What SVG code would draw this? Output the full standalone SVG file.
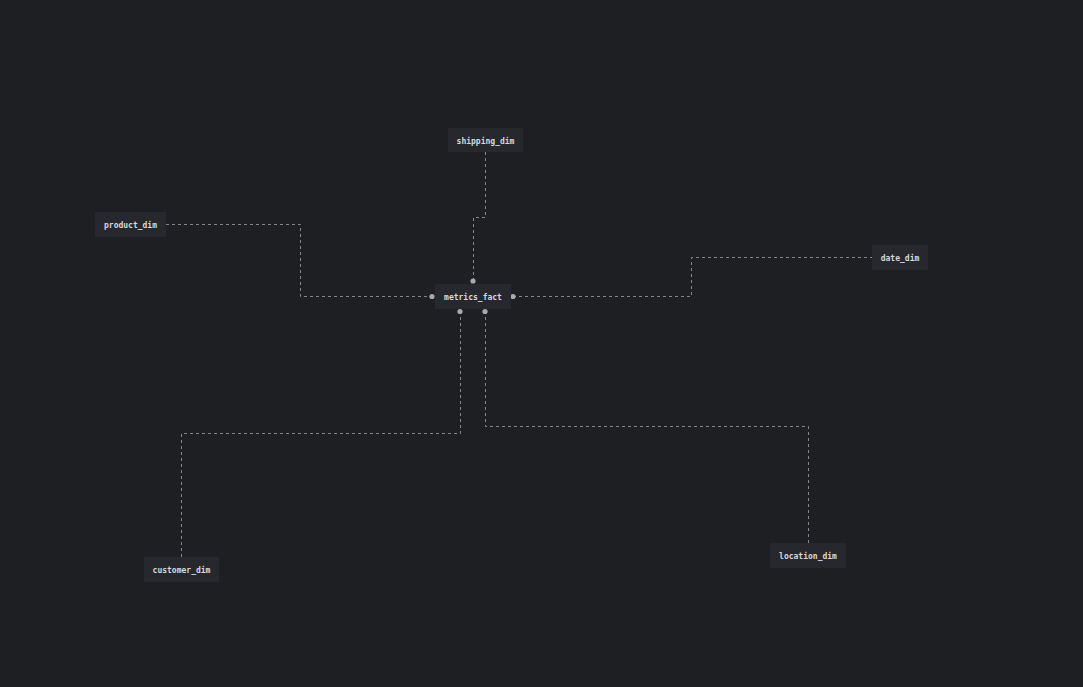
<svg xmlns="http://www.w3.org/2000/svg" width="1083" height="687" viewBox="0 0 1083 687">
  <style>
    .bg { fill: #1e1f23; }
    .node rect { fill: #27282d; }
    .node text { fill: #d8d8dc; font-family: "DejaVu Sans Mono", "Liberation Mono", monospace; font-size: 8px; font-weight: bold; text-anchor: middle; dominant-baseline: central; }
    .edge { fill: none; stroke: #85868b; stroke-width: 1; stroke-dasharray: 3 3; }
    .port { fill: #a9aaae; }
  </style>
  <rect class="bg" x="0" y="0" width="1083" height="687"/>

  <g id="connectors">
    <path class="edge" d="M485.5 152 V217.5 H473.5 V281"/>
    <path class="edge" d="M166 224.5 H300.5 V296.5 H432"/>
    <path class="edge" d="M513 296.5 H691.5 V257.5 H872"/>
    <path class="edge" d="M460.5 311 V433.5 H181.5 V557"/>
    <path class="edge" d="M485.5 311 V426.5 H808.5 V543"/>
    <circle class="port" cx="473" cy="281" r="2.6"/>
    <circle class="port" cx="432" cy="296.5" r="2.6"/>
    <circle class="port" cx="513" cy="296.5" r="2.6"/>
    <circle class="port" cx="460" cy="311.5" r="2.6"/>
    <circle class="port" cx="485" cy="311.5" r="2.6"/>
  </g>

  <g id="shipping_dim" class="node">
    <rect x="448" y="128" width="75" height="24"/>
    <text x="485.5" y="141.3">shipping_dim</text>
  </g>
  <g id="product_dim" class="node">
    <rect x="95" y="212" width="71" height="25"/>
    <text x="130.5" y="225.3">product_dim</text>
  </g>
  <g id="metrics_fact" class="node">
    <rect x="435" y="284" width="76" height="25"/>
    <text x="473" y="297.3">metrics_fact</text>
  </g>
  <g id="date_dim" class="node">
    <rect x="872" y="245" width="56" height="25"/>
    <text x="900" y="258.3">date_dim</text>
  </g>
  <g id="customer_dim" class="node">
    <rect x="144" y="557" width="75" height="25"/>
    <text x="181.5" y="570.8">customer_dim</text>
  </g>
  <g id="location_dim" class="node">
    <rect x="770" y="543" width="76" height="25"/>
    <text x="808" y="556.3">location_dim</text>
  </g>
</svg>
